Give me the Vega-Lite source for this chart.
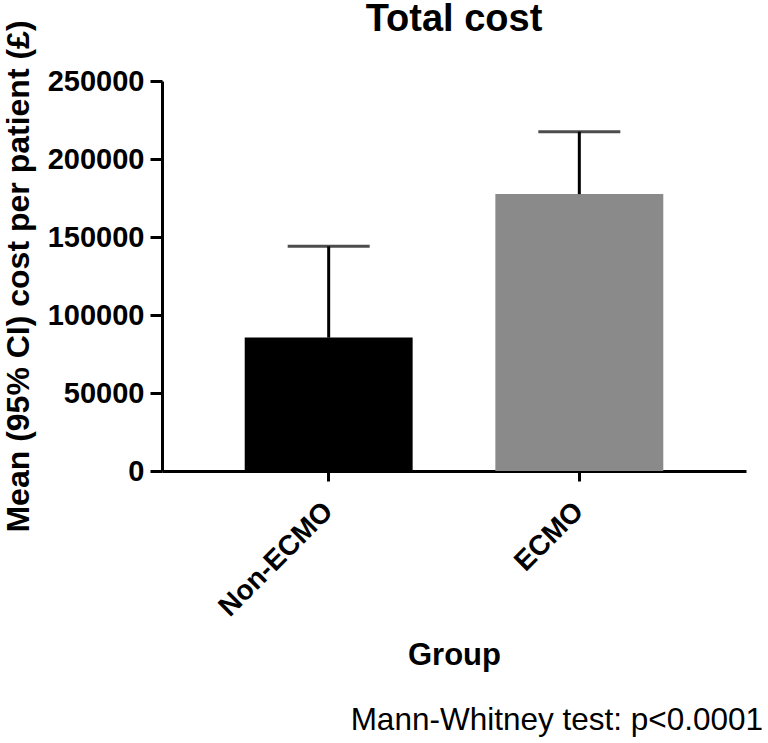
{
  "$schema": "https://vega.github.io/schema/vega-lite/v6.json",
  "padding": {"left": 2, "top": 0, "right": 0, "bottom": 0},
  "background": "white",
  "config": {"view": {"stroke": null}, "font": "Liberation Sans"},
  "title": {"text": "Mann-Whitney test: p<0.0001", "orient": "bottom", "anchor": "end", "fontSize": 31.5, "fontWeight": "normal", "font": "Liberation Sans", "color": "black", "offset": 35, "dx": 17},
  "vconcat": [
    {
      "width": 584,
      "height": 390,
      "title": {"text": "Total cost", "fontSize": 38, "fontWeight": "bold", "anchor": "middle", "frame": "group", "offset": -19, "color": "black"},
      "data": {"values": [
        {"group": "Non-ECMO", "mean": 85500, "upper": 144000},
        {"group": "ECMO", "mean": 177500, "upper": 217500}
      ]},
      "encoding": {
        "x": {
          "field": "group", "type": "nominal", "sort": ["Non-ECMO", "ECMO"],
          "scale": {"paddingInner": 0.33, "paddingOuter": 0.33},
          "axis": {
            "title": "Group", "titleFontSize": 31, "titleFontWeight": "bold", "titleColor": "black", "titlePadding": 19,
            "labelAngle": -45, "labelBaseline": "middle", "labelFontSize": 28, "labelFontWeight": "bold", "labelColor": "black", "labelPadding": 26,
            "tickSize": 10, "tickWidth": 3, "tickColor": "black", "domainColor": "black", "domainWidth": 3, "grid": false
          }
        }
      },
      "layer": [
        {
          "mark": {"type": "bar"},
          "encoding": {
            "y": {
              "field": "mean", "type": "quantitative",
              "scale": {"domain": [0, 250000], "nice": false},
              "axis": {
                "title": "Mean (95% CI) cost per patient (£)", "titleFontSize": 32, "titleFontWeight": "bold", "titleColor": "black", "titlePadding": 12,
                "values": [0, 50000, 100000, 150000, 200000, 250000], "format": "d",
                "labelFontSize": 29, "labelFontWeight": "bold", "labelColor": "black", "labelPadding": 6,
                "tickSize": 12, "tickWidth": 3, "tickColor": "black", "domainColor": "black", "domainWidth": 3, "grid": false
              }
            },
            "color": {"field": "group", "type": "nominal", "scale": {"domain": ["Non-ECMO", "ECMO"], "range": ["#000000", "#8a8a8a"]}, "legend": null}
          }
        },
        {
          "mark": {"type": "rule", "strokeWidth": 3, "color": "black"},
          "encoding": {
            "y": {"field": "mean", "type": "quantitative", "scale": {"domain": [0, 250000], "nice": false}},
            "y2": {"field": "upper"}
          }
        },
        {
          "mark": {"type": "tick", "thickness": 3, "size": 82, "color": "black", "orient": "horizontal"},
          "encoding": {
            "y": {"field": "upper", "type": "quantitative", "scale": {"domain": [0, 250000], "nice": false}}
          }
        }
      ]
    }
  ]
}
